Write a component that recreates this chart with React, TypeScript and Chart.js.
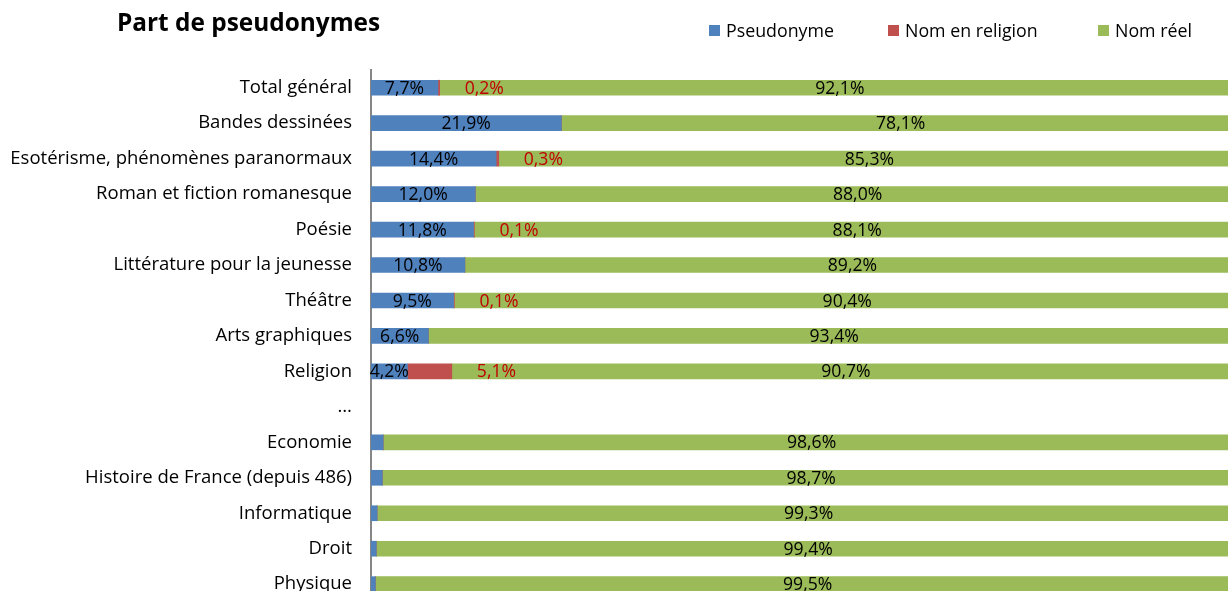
import React, { useEffect, useRef } from "react";
import { Chart, registerables } from "chart.js";

Chart.register(...registerables);

const categories = [
  "Total général",
  "Bandes dessinées",
  "Esotérisme, phénomènes paranormaux",
  "Roman et fiction romanesque",
  "Poésie",
  "Littérature pour la jeunesse",
  "Théâtre",
  "Arts graphiques",
  "Religion",
  "…",
  "Economie",
  "Histoire de France (depuis 486)",
  "Informatique",
  "Droit",
  "Physique",
];
const pseudonyme = [7.7, 21.9, 14.4, 12.0, 11.8, 10.8, 9.5, 6.6, 4.2, null, 1.4, 1.3, 0.7, 0.6, 0.5];
const nomReligion = [0.2, 0, 0.3, 0, 0.1, 0, 0.1, 0, 5.1, null, 0, 0, 0, 0, 0];
const nomReel = [92.1, 78.1, 85.3, 88.0, 88.1, 89.2, 90.4, 93.4, 90.7, null, 98.6, 98.7, 99.3, 99.4, 99.5];

const seriesNames = ["Pseudonyme", "Nom en religion", "Nom réel"];
const seriesColors = ["#4F81BD", "#C0504D", "#9BBB59"];

const FONT = "'Open Sans', 'Noto Sans', sans-serif";
const fmt = (v: number) => v.toFixed(1).replace(".", ",") + "%";

const labelPlugin = {
  id: "segLabels",
  afterDatasetsDraw(chart: any) {
    const ctx = chart.ctx;
    ctx.save();
    ctx.font = `17.6px ${FONT}`;
    ctx.textBaseline = "middle";
    chart.data.datasets.forEach((ds: any, di: number) => {
      const meta = chart.getDatasetMeta(di);
      meta.data.forEach((el: any, i: number) => {
        const v = ds.data[i];
        if (v == null || v === 0) return;
        const start = Math.min(el.x, el.base);
        const end = Math.max(el.x, el.base);
        if (di === 0) {
          if (v < 3) return;
          ctx.fillStyle = "#000000";
          ctx.textAlign = "center";
          ctx.fillText(fmt(v), (start + end) / 2, el.y + 1);
        } else if (di === 1) {
          ctx.fillStyle = "#C00000";
          ctx.textAlign = "left";
          ctx.fillText(fmt(v), end + 25, el.y + 1);
        } else {
          ctx.fillStyle = "#000000";
          ctx.textAlign = "center";
          ctx.fillText(fmt(v), (start + end) / 2, el.y + 1);
        }
      });
    });
    ctx.restore();
  },
};

export default function App() {
  const ref = useRef<HTMLCanvasElement>(null);

  useEffect(() => {
    document.body.style.margin = "0";
    const data = [pseudonyme, nomReligion, nomReel];
    const chart = new Chart(ref.current!, {
      type: "bar",
      data: {
        labels: categories,
        datasets: seriesNames.map((name, i) => ({
          label: name,
          data: data[i],
          backgroundColor: seriesColors[i],
          borderWidth: 0,
          barThickness: 15,
        })),
      },
      options: {
        indexAxis: "y",
        animation: false,
        responsive: false,
        devicePixelRatio: 1,
        layout: { padding: { top: 70, bottom: 0, left: 0, right: 10 } },
        plugins: {
          legend: { display: false },
          title: { display: false },
          tooltip: { enabled: false },
        },
        scales: {
          x: { stacked: true, min: 0, max: 100, display: false },
          y: {
            stacked: true,
            grid: { display: false, drawTicks: false },
            border: { display: true, color: "#868686", width: 2 },
            ticks: {
              color: "#000000",
              padding: 19,
              font: { family: FONT, size: 18.5 },
            },
            afterFit(scale: any) {
              scale.width = 371;
            },
          },
        },
      },
      plugins: [labelPlugin],
    });
    return () => chart.destroy();
  }, []);

  const legendItems = [
    { x: 709, name: seriesNames[0], color: seriesColors[0] },
    { x: 888, name: seriesNames[1], color: seriesColors[1] },
    { x: 1098, name: seriesNames[2], color: seriesColors[2] },
  ];

  return (
    <div style={{ position: "relative", width: 1228, height: 591, overflow: "hidden", background: "#fff" }}>
      <canvas ref={ref} width={1250} height={632} style={{ position: "absolute", left: 0, top: 0 }} />
      <div
        style={{
          position: "absolute",
          left: 117,
          top: 5,
          fontFamily: FONT,
          fontWeight: 700,
          fontSize: 24.4,
          color: "#000",
          whiteSpace: "nowrap",
        }}
      >
        Part de pseudonymes
      </div>
      {legendItems.map((it) => (
        <div
          key={it.name}
          style={{ position: "absolute", left: it.x, top: 18, display: "flex", alignItems: "center", whiteSpace: "nowrap" }}
        >
          <span style={{ display: "inline-block", width: 11, height: 11, background: it.color, marginRight: 6 }} />
          <span style={{ fontFamily: FONT, fontSize: 17.8, color: "#000" }}>{it.name}</span>
        </div>
      ))}
    </div>
  );
}
